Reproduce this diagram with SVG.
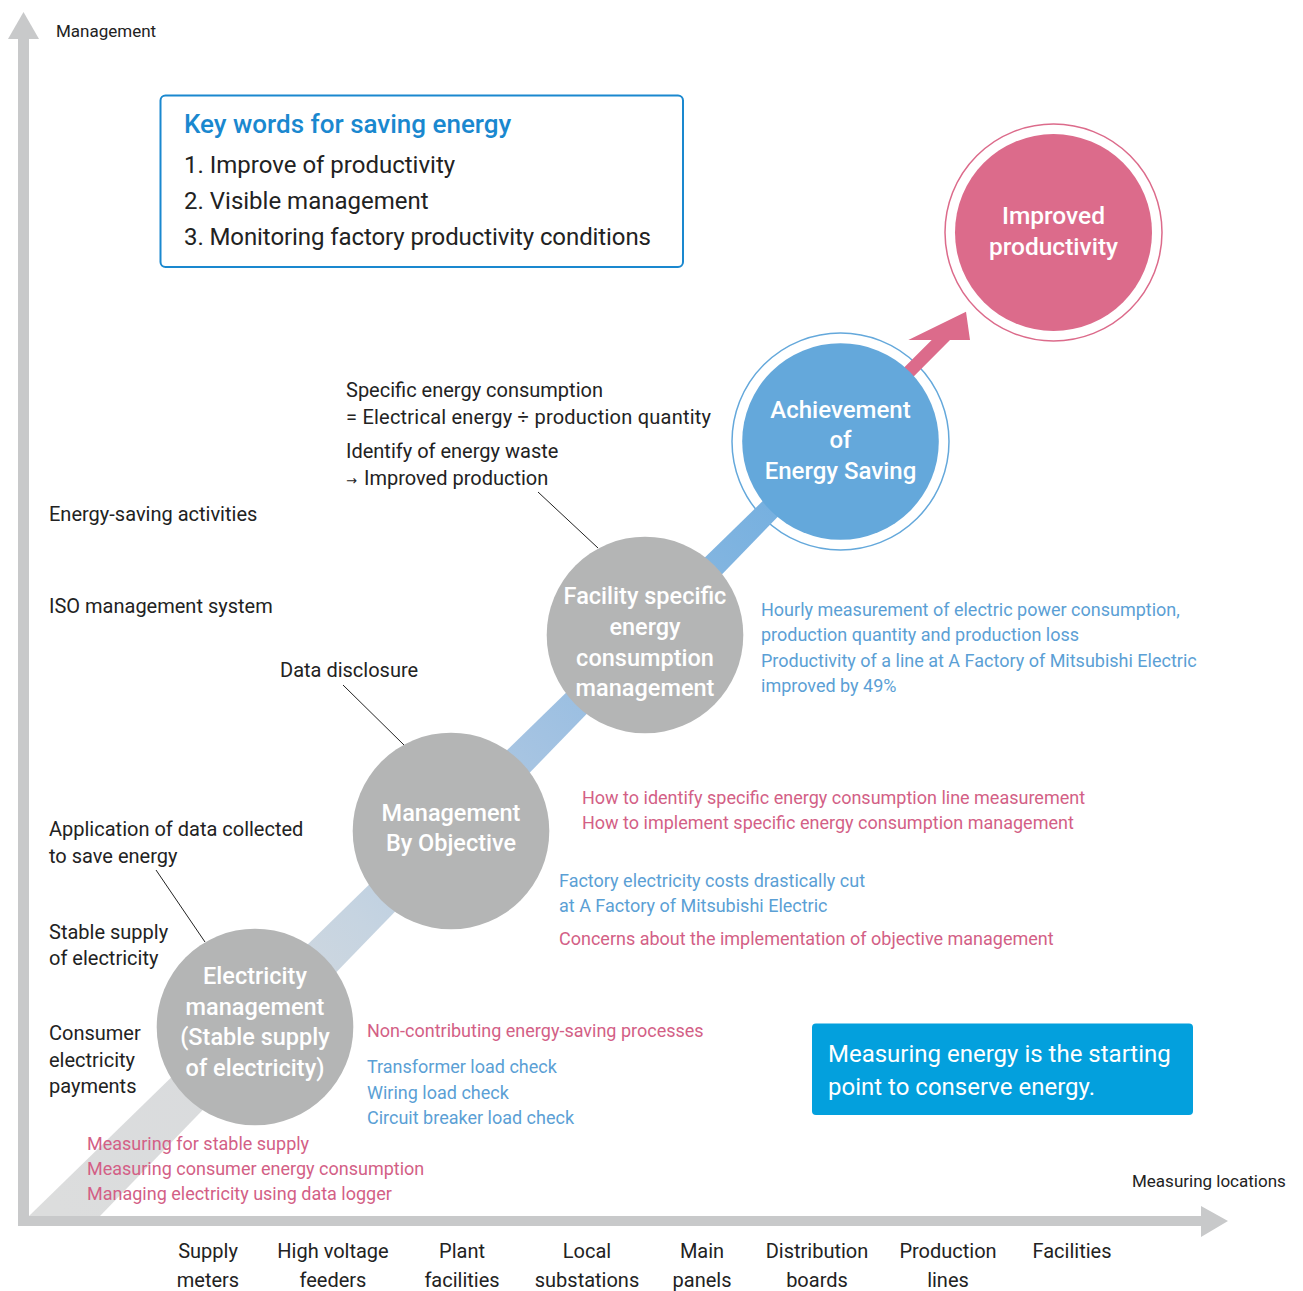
<svg xmlns="http://www.w3.org/2000/svg" width="1303" height="1291" viewBox="0 0 1303 1291">
<style>
text{font-family:Roboto,"Liberation Sans",sans-serif}
.k{font-size:20px;fill:#222}
.s{font-size:17px;fill:#222}
.bl{font-size:18px;fill:#5b9fd5}
.pk{font-size:18px;fill:#d35f86}
.w{fill:#fff;font-size:23.5px;font-weight:500;text-anchor:middle}
.ax{font-size:20px;fill:#222;text-anchor:middle}
.kw{font-size:24px;fill:#222}
.lead{stroke:#222;stroke-width:1;fill:none}
.gray{fill:#b4b5b5}
</style>
<defs>
<linearGradient id="band" gradientUnits="userSpaceOnUse" x1="64" y1="1215" x2="840" y2="440">
<stop offset="0" stop-color="#dcdddd"/>
<stop offset="0.2" stop-color="#d9dbdd"/>
<stop offset="0.38" stop-color="#c6d4e1"/>
<stop offset="0.62" stop-color="#a2c2e2"/>
<stop offset="0.85" stop-color="#80b4e0"/>
<stop offset="1" stop-color="#6aabdf"/>
</linearGradient>
</defs>
<rect width="1303" height="1291" fill="#fff"/>

<g id="axes" fill="#c8c9ca">
<rect x="18" y="38" width="11" height="1188"/>
<polygon points="8,39 39,39 23.5,12"/>
<rect x="18" y="1216" width="1184" height="10"/>
<polygon points="1201,1206 1228,1221 1201,1237"/>
</g>
<text class="s" x="56" y="37">Management</text>
<text class="s" x="1132" y="1187">Measuring locations</text>

<g id="ring-achievement"><circle cx="840.5" cy="441.5" r="108.5" fill="none" stroke="#64a8db" stroke-width="1.5"/></g>
<g id="ring-improved"><circle cx="1053.5" cy="232.5" r="108.5" fill="none" stroke="#dc6b8b" stroke-width="1.5"/></g>

<g id="connectors">
<polygon id="progress-band" points="29,1216 100,1216 846.7,445.7 833.3,432.3" fill="url(#band)"/>
<polygon id="pink-arrow" points="908.2,382.1 950,340 970,340 966,311.7 908.3,340 931.7,340 898.9,372.7" fill="#dc6b8b"/>
<line class="lead" x1="538" y1="492" x2="598" y2="548"/>
<line class="lead" x1="343" y1="685" x2="404" y2="745"/>
<line class="lead" x1="156" y1="870" x2="205" y2="942"/>
</g>

<g id="node-electricity">
<circle class="gray" cx="255" cy="1027" r="98.3"/>
<text class="w" x="255" y="983.5">Electricity</text>
<text class="w" x="255" y="1014.5">management</text>
<text class="w" x="255" y="1045">(Stable supply</text>
<text class="w" x="255" y="1075.5">of electricity)</text>
</g>
<g id="node-mbo">
<circle class="gray" cx="451" cy="831" r="98.3"/>
<text class="w" x="451" y="820.7">Management</text>
<text class="w" x="451" y="850.7">By Objective</text>
</g>
<g id="node-facility">
<circle class="gray" cx="645" cy="635" r="98.3"/>
<text class="w" x="645" y="604">Facility specific</text>
<text class="w" x="645" y="635">energy</text>
<text class="w" x="645" y="665.5">consumption</text>
<text class="w" x="645" y="696">management</text>
</g>
<g id="node-achievement">
<circle cx="840.5" cy="441.5" r="98.3" fill="#64a8db"/>
<text class="w" style="font-size:24px" x="840.5" y="418.3">Achievement</text>
<text class="w" style="font-size:24px" x="840.5" y="448.3">of</text>
<text class="w" style="font-size:24px" x="840.5" y="479.3">Energy Saving</text>
</g>
<g id="node-improved">
<circle cx="1053.5" cy="232.5" r="98.5" fill="#dc6b8b"/>
<text class="w" style="font-size:24.5px" x="1053.5" y="224">Improved</text>
<text class="w" style="font-size:24.5px" x="1053.5" y="254.5">productivity</text>
</g>

<g id="keywords-box">
<rect x="160.5" y="95.5" width="522.5" height="171.5" rx="5" fill="#fff" stroke="#1a88cf" stroke-width="2"/>
<text x="184" y="133" style="font-size:26px;font-weight:500;fill:#1a88cf">Key words for saving energy</text>
<text class="kw" x="184" y="173">1. Improve of productivity</text>
<text class="kw" x="184" y="209">2. Visible management</text>
<text class="kw" x="184" y="244.5" textLength="467" lengthAdjust="spacing">3. Monitoring factory productivity conditions</text>
</g>

<g id="message-box">
<rect x="812" y="1023.5" width="381" height="91.5" rx="4" fill="#03a0dd"/>
<text x="828" y="1061.5" style="font-size:24px;fill:#fff">Measuring energy is the starting</text>
<text x="828" y="1095" style="font-size:24px;fill:#fff">point to conserve energy.</text>
</g>

<g id="labels-left">
<text class="k" x="346" y="397">Specific energy consumption</text>
<text class="k" x="346" y="424" textLength="365" lengthAdjust="spacing">= Electrical energy ÷ production quantity</text>
<text class="k" x="346" y="458">Identify of energy waste</text>
<text class="k" x="346" y="485"><tspan style="font-family:'DejaVu Sans',sans-serif;font-size:13px">→</tspan><tspan x="364">Improved production</tspan></text>
<text class="k" x="49" y="521">Energy-saving activities</text>
<text class="k" x="49" y="613">ISO management system</text>
<text class="k" x="280" y="677">Data disclosure</text>
<text class="k" x="49" y="836">Application of data collected</text>
<text class="k" x="49" y="863">to save energy</text>
<text class="k" x="49" y="939">Stable supply</text>
<text class="k" x="49" y="965">of electricity</text>
<text class="k" x="49" y="1040">Consumer</text>
<text class="k" x="49" y="1067">electricity</text>
<text class="k" x="49" y="1093">payments</text>
</g>

<g id="notes">
<text class="bl" x="761" y="616">Hourly measurement of electric power consumption,</text>
<text class="bl" x="761" y="641">production quantity and production loss</text>
<text class="bl" x="761" y="667">Productivity of a line at A Factory of Mitsubishi Electric</text>
<text class="bl" x="761" y="692">improved by 49%</text>
<text class="pk" x="582" y="804">How to identify specific energy consumption line measurement</text>
<text class="pk" x="582" y="829">How to implement specific energy consumption management</text>
<text class="bl" x="559" y="887">Factory electricity costs drastically cut</text>
<text class="bl" x="559" y="912">at A Factory of Mitsubishi Electric</text>
<text class="pk" x="559" y="945">Concerns about the implementation of objective management</text>
<text class="pk" x="367" y="1037">Non-contributing energy-saving processes</text>
<text class="bl" x="367" y="1073">Transformer load check</text>
<text class="bl" x="367" y="1099">Wiring load check</text>
<text class="bl" x="367" y="1124">Circuit breaker load check</text>
<text class="pk" x="87" y="1149.5">Measuring for stable supply</text>
<text class="pk" x="87" y="1175">Measuring consumer energy consumption</text>
<text class="pk" x="87" y="1200">Managing electricity using data logger</text>
</g>

<g id="axis-labels">
<text class="ax" x="208" y="1258">Supply</text><text class="ax" x="208" y="1287">meters</text>
<text class="ax" x="333" y="1258">High voltage</text><text class="ax" x="333" y="1287">feeders</text>
<text class="ax" x="462" y="1258">Plant</text><text class="ax" x="462" y="1287">facilities</text>
<text class="ax" x="587" y="1258">Local</text><text class="ax" x="587" y="1287">substations</text>
<text class="ax" x="702" y="1258">Main</text><text class="ax" x="702" y="1287">panels</text>
<text class="ax" x="817" y="1258">Distribution</text><text class="ax" x="817" y="1287">boards</text>
<text class="ax" x="948" y="1258">Production</text><text class="ax" x="948" y="1287">lines</text>
<text class="ax" x="1072" y="1258">Facilities</text>
</g>
</svg>
